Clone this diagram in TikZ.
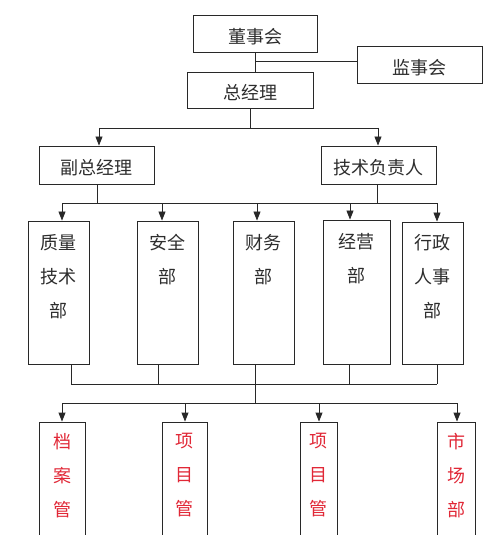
\documentclass[tikz,border=0pt]{standalone}
\usepackage{fontspec}
\setmainfont{Noto Sans CJK SC}
\usetikzlibrary{arrows.meta}
\definecolor{ln}{RGB}{40,40,40}
\definecolor{txt}{RGB}{45,45,45}
\definecolor{rd}{RGB}{225,40,55}
\begin{document}
\begin{tikzpicture}[x=1bp,y=-1bp,
  box/.style={draw=ln,line width=0.9bp,rectangle,inner sep=0pt},
  lbl/.style={font=\fontsize{18bp}{34bp}\selectfont,text=txt,inner sep=0pt,align=center},
  rlbl/.style={lbl,text=rd},
  conn/.style={draw=ln,line width=0.9bp},
  arr/.style={conn,-{Triangle[length=9bp,width=7bp]}}]
\useasboundingbox (0,0) rectangle (500,535);
\fill[white] (0,0) rectangle (500,535);
\clip (0,0) rectangle (500,535);
% top boxes
\node[box,minimum width=124bp,minimum height=37bp] (dsh) at (255,33.5) {};
\node[lbl] (dshT) at (255,36.5) {董事会};
\node[box,minimum width=125bp,minimum height=37bp] (jsh) at (419.5,64.5) {};
\node[lbl] (jshT) at (419.5,67.5) {监事会};
\node[box,minimum width=126bp,minimum height=36bp] (zjl) at (250,90) {};
\node[lbl] (zjlT) at (250,93) {总经理};
\node[box,minimum width=115bp,minimum height=38bp] (fz) at (96.5,165) {};
\node[lbl] (fzT) at (96.5,168) {副总经理};
\node[box,minimum width=115bp,minimum height=38bp] (js) at (378.5,165) {};
\node[lbl] (jsT) at (378.5,168) {技术负责人};
% departments
\node[box,minimum width=61bp,minimum height=143bp] (zl) at (58.5,292.5) {};
\node[lbl,anchor=north] (zlT) at (58.5,234) {质量\\技术\\部};
\node[box,minimum width=61bp,minimum height=143bp] (aq) at (167.5,292.5) {};
\node[lbl,anchor=north] (aqT) at (167.5,234) {安全\\部};
\node[box,minimum width=61bp,minimum height=143bp] (cw) at (263.5,292.5) {};
\node[lbl,anchor=north] (cwT) at (263.5,234) {财务\\部};
\node[box,minimum width=67bp,minimum height=144bp] (jy) at (356.5,292) {};
\node[lbl,anchor=north] (jyT) at (356.5,233) {经营\\部};
\node[box,minimum width=61bp,minimum height=142bp] (xz) at (432.5,293) {};
\node[lbl,anchor=north] (xzT) at (432.5,234) {行政\\人事\\部};
% bottom boxes
\node[box,minimum width=46bp,minimum height=138bp] (da) at (62,491) {};
\node[rlbl,anchor=north] (daT) at (62,433) {档\\案\\管};
\node[box,minimum width=45bp,minimum height=138bp] (xa) at (184.5,491) {};
\node[rlbl,anchor=north] (xaT) at (184.5,433) {项\\目\\管};
\node[box,minimum width=37bp,minimum height=138bp] (xb) at (318.5,491) {};
\node[rlbl,anchor=north] (xbT) at (318.5,433) {项\\目\\管};
\node[box,minimum width=38bp,minimum height=138bp] (sc) at (456,491) {};
\node[rlbl,anchor=north] (scT) at (456,433) {市\\场\\部};
% connectors top
\coordinate (j1) at (255,61);
\draw[conn] (dsh.south) -- (dsh.south |- zjl.north);
\draw[conn] (j1) -- (j1 -| jsh.west);
\coordinate (b1) at (250,128);
\draw[conn] (zjl.south) -- (b1);
\coordinate (a1) at (99,128);
\coordinate (a2) at (378,128);
\draw[conn] (a1) -- (a2);
\draw[arr] (a1) -- (a1 |- fz.north);
\draw[arr] (a2) -- (a2 |- js.north);
% bus 2
\coordinate (c1) at (97,203);
\coordinate (c2) at (377,203);
\draw[conn] (c1 |- fz.south) -- (c1);
\draw[conn] (c2 |- js.south) -- (c2);
\coordinate (d1) at (62,203);
\coordinate (d2) at (162,203);
\coordinate (d3) at (257,203);
\coordinate (d4) at (350,203);
\coordinate (d5) at (437,203);
\draw[conn] (d1) -- (d5);
\draw[arr] (d1) -- (d1 |- zl.north);
\draw[arr] (d2) -- (d2 |- aq.north);
\draw[arr] (d3) -- (d3 |- cw.north);
\draw[arr] (d4) -- (d4 |- jy.north);
\draw[arr] (d5) -- (d5 |- xz.north);
% bus 3
\coordinate (e1) at (71,384);
\coordinate (e2) at (158,384);
\coordinate (e3) at (255,384);
\coordinate (e4) at (349,384);
\coordinate (e5) at (437,384);
\draw[conn] (e1 |- zl.south) -- (e1);
\draw[conn] (e2 |- aq.south) -- (e2);
\draw[conn] (e3 |- cw.south) -- (e3);
\draw[conn] (e4 |- jy.south) -- (e4);
\draw[conn] (e5 |- xz.south) -- (e5);
\draw[conn] (e1) -- (e5);
\coordinate (f0) at (255,403);
\draw[conn] (e3) -- (f0);
\coordinate (g1) at (62,403);
\coordinate (g2) at (185,403);
\coordinate (g3) at (319,403);
\coordinate (g4) at (457,403);
\draw[conn] (g1) -- (g4);
\draw[arr] (g1) -- (g1 |- da.north);
\draw[arr] (g2) -- (g2 |- xa.north);
\draw[arr] (g3) -- (g3 |- xb.north);
\draw[arr] (g4) -- (g4 |- sc.north);
\end{tikzpicture}
\end{document}
